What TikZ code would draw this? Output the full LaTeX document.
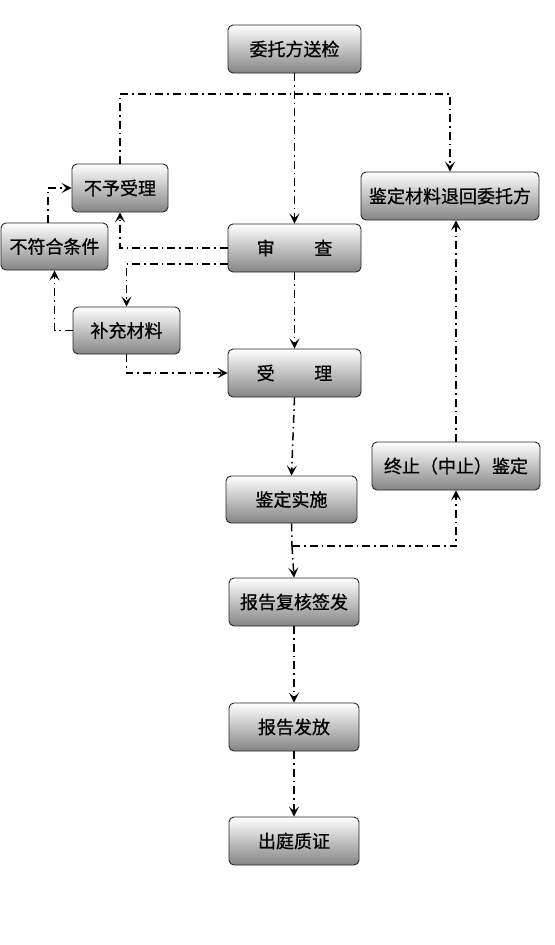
\documentclass[tikz,border=0pt]{standalone}
\usepackage{fontspec}
\newfontfamily\cjk[FakeBold=0.8]{Noto Sans CJK SC}
\usetikzlibrary{arrows.meta}
\tikzset{
  box/.style={draw=black!85, line width=0.9bp, rounded corners=5bp,
    top color=white, bottom color=black!48, inner sep=0pt,
    font=\cjk\fontsize{18bp}{20bp}\selectfont, text=black},
  flow/.style={line width=1.5bp, black,
    dash pattern=on 8bp off 4bp on 1.5bp off 4bp,
    -{Stealth[length=10bp,width=10bp,inset=4.5bp]}},
  plain/.style={line width=1.5bp, black,
    dash pattern=on 8bp off 4bp on 1.5bp off 4bp}
}
\begin{document}
\begin{tikzpicture}[x=1bp,y=-1bp]
\useasboundingbox (0,0) rectangle (555,945);
% nodes
\node[box, minimum width=133bp, minimum height=48bp] (ws)  at (294.5,49)  {委托方送检};
\node[box, minimum width=178bp, minimum height=48bp] (th)  at (450,196)   {鉴定材料退回委托方};
\node[box, minimum width=96bp,  minimum height=48bp] (byl) at (120,188)   {不予受理};
\node[box, minimum width=107bp, minimum height=47bp] (bfh) at (54.5,246.5){不符合条件};
\node[box, minimum width=133bp, minimum height=48bp] (sc)  at (294.5,248) {审\hspace{2.2em}查};
\node[box, minimum width=107bp, minimum height=47bp] (bc)  at (126.5,330.5){补充材料};
\node[box, minimum width=133bp, minimum height=48bp] (sl)  at (294.5,373) {受\hspace{2.2em}理};
\node[box, minimum width=168bp, minimum height=48bp] (zz)  at (456,466)   {终止（中止）鉴定};
\node[box, minimum width=131bp, minimum height=47bp] (ss)  at (291.5,499.5){鉴定实施};
\node[box, minimum width=130bp, minimum height=48bp] (bg)  at (294,602)   {报告复核签发};
\node[box, minimum width=130bp, minimum height=48bp] (ff)  at (294,727)   {报告发放};
\node[box, minimum width=130bp, minimum height=48bp] (cz)  at (294,841)   {出庭质证};
% helper coordinates
\coordinate (toprow) at (0,94);
\coordinate (j) at (292,546);
% connectors
\draw[flow] (ws.south) -- (sc.north);
\draw[flow] (byl.north) -- (byl.north |- toprow) -- (th.north |- toprow) -- (th.north);
\draw[flow] ([xshift=-6.5bp]bfh.north) |- (byl.west);
\draw[flow] (sc.west) -| (byl.south);
\draw[flow] ([yshift=-16bp]sc.west) -| (bc.north);
\draw[flow] (bc.west) -| (bfh.south);
\draw[flow] (bc.south) |- (sl.west);
\draw[flow] (sc.south) -- (sl.north);
\draw[flow] (sl.south) -- (ss.north);
\draw[plain] (ss.south) -- (j);
\draw[flow] (j) -| (zz.south);
\draw[flow] (j) -- (bg.north);
\draw[flow] (zz.north) -- (zz.north |- th.south);
\draw[flow] (bg.south) -- (ff.north);
\draw[flow] (ff.south) -- (cz.north);
\end{tikzpicture}
\end{document}
